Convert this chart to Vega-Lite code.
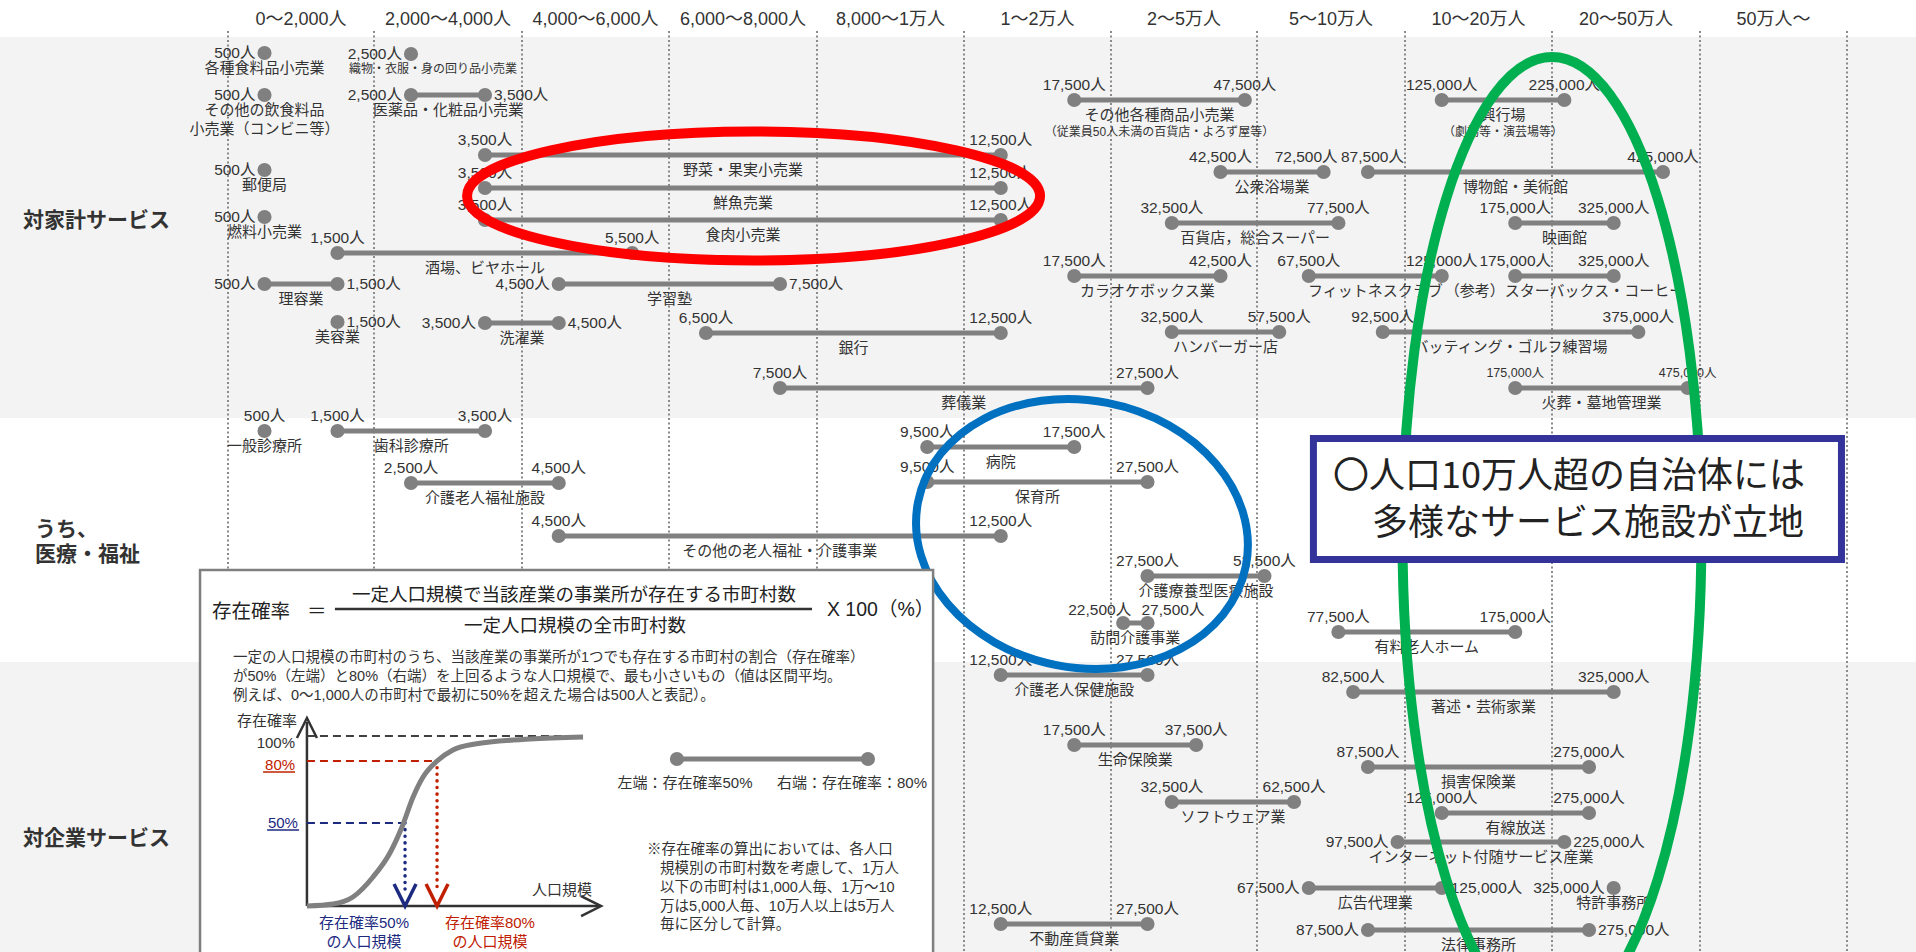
{
 "$schema": "https://vega.github.io/schema/vega-lite/v6.json",
 "width": 1916, "height": 952, "autosize": {"type": "none"}, "padding": 0,
 "background": "white",
 "config": {"view": {"stroke": null}, "axis": {"disable": true}, "font": "Liberation Sans, Noto Sans CJK JP, sans-serif", "text": {"color": "#333333"}},
 "resolve": {"scale": {"x": "independent", "y": "independent"}},
 "layer": [
  {
   "data": {"values": [
    {"n":"各種食料品小売業","lo":500,"y":5.57},
    {"n":"織物・衣服・身の回り品小売業","lo":2500,"y":5.67},
    {"n":"その他の飲食料品|小売業（コンビニ等）","lo":500,"y":9.98},
    {"n":"医薬品・化粧品小売業","lo":2500,"hi":3500,"y":9.98},
    {"n":"郵便局","lo":500,"y":17.86},
    {"n":"燃料小売業","lo":500,"y":22.79},
    {"n":"酒場、ビヤホール","lo":1500,"hi":5500,"y":26.58},
    {"n":"理容業","lo":500,"hi":1500,"y":29.83},
    {"n":"美容業","hi":1500,"y":33.82},
    {"n":"野菜・果実小売業","lo":3500,"hi":12500,"y":16.28},
    {"n":"鮮魚売業","lo":3500,"hi":12500,"y":19.75},
    {"n":"食肉小売業","lo":3500,"hi":12500,"y":23.11},
    {"n":"学習塾","lo":4500,"hi":7500,"y":29.83},
    {"n":"洗濯業","lo":3500,"hi":4500,"y":33.93},
    {"n":"銀行","lo":6500,"hi":12500,"y":34.98},
    {"n":"葬儀業","lo":7500,"hi":27500,"y":40.76},
    {"n":"その他各種商品小売業","s":"（従業員50人未満の百貨店・よろず屋等）","lo":17500,"hi":47500,"y":10.50},
    {"n":"公衆浴場業","lo":42500,"hi":72500,"y":18.07},
    {"n":"百貨店，総合スーパー","lo":32500,"hi":77500,"y":23.42},
    {"n":"カラオケボックス業","lo":17500,"hi":42500,"y":28.99},
    {"n":"フィットネスクラブ","lo":67500,"hi":125000,"y":28.99},
    {"n":"ハンバーガー店","lo":32500,"hi":57500,"y":34.87},
    {"n":"興行場","s":"（劇場等・演芸場等）","lo":125000,"hi":225000,"y":10.50},
    {"n":"博物館・美術館","lo":87500,"hi":425000,"y":18.07},
    {"n":"映画館","lo":175000,"hi":325000,"y":23.42},
    {"n":"（参考）スターバックス・コーヒー","lo":175000,"hi":325000,"y":28.99},
    {"n":"バッティング・ゴルフ練習場","lo":92500,"hi":375000,"y":34.87},
    {"n":"火葬・墓地管理業","lo":175000,"hi":475000,"y":40.76},
    {"n":"一般診療所","lo":500,"y":45.27},
    {"n":"歯科診療所","lo":1500,"hi":3500,"y":45.27},
    {"n":"介護老人福祉施設","lo":2500,"hi":4500,"y":50.74},
    {"n":"病院","lo":9500,"hi":17500,"y":46.95},
    {"n":"保育所","lo":9500,"hi":27500,"y":50.63},
    {"n":"その他の老人福祉・介護事業","lo":4500,"hi":12500,"y":56.30},
    {"n":"介護療養型医療施設","lo":27500,"hi":52500,"y":60.50},
    {"n":"訪問介護事業","lo":22500,"hi":27500,"y":65.44},
    {"n":"有料老人ホーム","lo":77500,"hi":175000,"y":66.39},
    {"n":"介護老人保健施設","lo":12500,"hi":27500,"y":70.90},
    {"n":"生命保険業","lo":17500,"hi":37500,"y":78.26},
    {"n":"ソフトウェア業","lo":32500,"hi":62500,"y":84.24},
    {"n":"不動産賃貸業","lo":12500,"hi":27500,"y":97.06},
    {"n":"著述・芸術家業","lo":82500,"hi":325000,"y":72.69},
    {"n":"損害保険業","lo":87500,"hi":275000,"y":80.57},
    {"n":"有線放送","lo":125000,"hi":275000,"y":85.40},
    {"n":"インターネット付随サービス産業","lo":97500,"hi":225000,"y":88.45},
    {"n":"広告代理業","lo":67500,"hi":125000,"y":93.28},
    {"n":"特許事務所","lo":325000,"y":93.28},
    {"n":"法律事務所","lo":87500,"hi":275000,"y":97.69}
   ]},
   "transform": [
    {"calculate": "isValid(datum.lo) ? datum.lo : datum.hi", "as": "a"},
    {"calculate": "isValid(datum.hi) ? datum.hi : datum.lo", "as": "b"},
    {"calculate": "indexof(['各種食料品小売業','織物・衣服・身の回り品小売業','その他の飲食料品|小売業（コンビニ等）','医薬品・化粧品小売業','郵便局','燃料小売業','理容業','美容業','学習塾','洗濯業','インターネット付随サービス産業','広告代理業','特許事務所','法律事務所'], datum.n) >= 0", "as": "side"},
    {"calculate": "datum.n === '訪問介護事業'", "as": "split"},
    {"calculate": "datum.n === '博物館・美術館'", "as": "pushLo"},
    {"calculate": "datum.n === '公衆浴場業'", "as": "pushHi"},
    {"calculate": "isValid(datum.lo) ? format(datum.lo, ',') + '人' : ''", "as": "tlo"},
    {"calculate": "isValid(datum.hi) ? format(datum.hi, ',') + '人' : ''", "as": "thi"}
   ],
   "layer": [
    {
     "data": {"values": [{"y0": 3.89, "y1": 43.91}, {"y0": 69.54, "y1": 100}]},
     "mark": {"type": "rect", "color": "#f3f3f3"},
     "encoding": {
      "y": {"field": "y0", "type": "quantitative", "scale": {"domain": [0, 100], "reverse": true, "nice": false, "zero": false}},
      "y2": {"field": "y1"}
     }
    },
    {
     "data": {"values": [{"v":0},{"v":2000},{"v":4000},{"v":6000},{"v":8000},{"v":10000},{"v":20000},{"v":50000},{"v":100000},{"v":200000},{"v":500000},{"v":1000000}]},
     "mark": {"type": "rule", "color": "#8a8a8a", "strokeWidth": 2, "strokeDash": [2, 2.5]},
     "encoding": {
      "x": {"field": "v", "type": "quantitative", "scale": {"domain": [0,2000,4000,6000,8000,10000,20000,50000,100000,200000,500000,1000000], "range": [228,374,522,669,817,964,1111,1257,1405,1552,1700,1847], "nice": false, "zero": false}},
      "y": {"datum": 3.26, "type": "quantitative", "scale": {"domain": [0, 100], "reverse": true, "nice": false, "zero": false}},
      "y2": {"datum": 100}
     }
    },
    {
     "data": {"values": [
      {"v":1000,"t":"0～2,000人"},{"v":3000,"t":"2,000～4,000人"},{"v":5000,"t":"4,000～6,000人"},{"v":7000,"t":"6,000～8,000人"},{"v":9000,"t":"8,000～1万人"},{"v":15000,"t":"1～2万人"},{"v":35000,"t":"2～5万人"},{"v":75000,"t":"5～10万人"},{"v":150000,"t":"10～20万人"},{"v":350000,"t":"20～50万人"},{"v":750000,"t":"50万人～"}
     ]},
     "mark": {"type": "text", "fontSize": 18, "baseline": "middle", "align": "center", "color": "#333333"},
     "encoding": {
      "x": {"field": "v", "type": "quantitative", "scale": {"domain": [0,2000,4000,6000,8000,10000,20000,50000,100000,200000,500000,1000000], "range": [228,374,522,669,817,964,1111,1257,1405,1552,1700,1847], "nice": false, "zero": false}},
      "y": {"datum": 2.1, "type": "quantitative", "scale": {"domain": [0, 100], "reverse": true, "nice": false, "zero": false}},
      "text": {"field": "t"}
     }
    },
    {
     "transform": [{"filter": "isValid(datum.lo) && isValid(datum.hi)"}],
     "mark": {"type": "rule", "color": "#808080", "strokeWidth": 5},
     "encoding": {
      "x": {"field": "lo", "type": "quantitative", "scale": {"domain": [0,2000,4000,6000,8000,10000,20000,50000,100000,200000,500000,1000000], "range": [228,374,522,669,817,964,1111,1257,1405,1552,1700,1847], "nice": false, "zero": false}},
      "x2": {"field": "hi"},
      "y": {"field": "y", "type": "quantitative", "scale": {"domain": [0, 100], "reverse": true, "nice": false, "zero": false}}
     }
    },
    {
     "transform": [{"fold": ["lo", "hi"], "as": ["k", "v"]}, {"filter": "isValid(datum.v)"}],
     "mark": {"type": "circle", "color": "#808080", "size": 200, "opacity": 1},
     "encoding": {
      "x": {"field": "v", "type": "quantitative", "scale": {"domain": [0,2000,4000,6000,8000,10000,20000,50000,100000,200000,500000,1000000], "range": [228,374,522,669,817,964,1111,1257,1405,1552,1700,1847], "nice": false, "zero": false}},
      "y": {"field": "y", "type": "quantitative", "scale": {"domain": [0, 100], "reverse": true, "nice": false, "zero": false}}
     }
    },
    {
     "transform": [{"filter": "!datum.side && !datum.split && !datum.pushLo && isValid(datum.lo)"}],
     "mark": {"type": "text", "align": "center", "baseline": "middle", "dy": -15, "color": "#333333"},
     "encoding": {
      "x": {"field": "lo", "type": "quantitative", "scale": {"domain": [0,2000,4000,6000,8000,10000,20000,50000,100000,200000,500000,1000000], "range": [228,374,522,669,817,964,1111,1257,1405,1552,1700,1847], "nice": false, "zero": false}},
      "y": {"field": "y", "type": "quantitative", "scale": {"domain": [0, 100], "reverse": true, "nice": false, "zero": false}},
      "text": {"field": "tlo"},
      "size": {"condition": {"test": "datum.n === '火葬・墓地管理業'", "value": 12.5}, "value": 15.5}
     }
    },
    {
     "transform": [{"filter": "!datum.side && !datum.split && !datum.pushHi && isValid(datum.hi)"}],
     "mark": {"type": "text", "align": "center", "baseline": "middle", "dy": -15, "color": "#333333"},
     "encoding": {
      "x": {"field": "hi", "type": "quantitative", "scale": {"domain": [0,2000,4000,6000,8000,10000,20000,50000,100000,200000,500000,1000000], "range": [228,374,522,669,817,964,1111,1257,1405,1552,1700,1847], "nice": false, "zero": false}},
      "y": {"field": "y", "type": "quantitative", "scale": {"domain": [0, 100], "reverse": true, "nice": false, "zero": false}},
      "text": {"field": "thi"},
      "size": {"condition": {"test": "datum.n === '火葬・墓地管理業'", "value": 12.5}, "value": 15.5}
     }
    },
    {
     "transform": [{"filter": "datum.pushLo"}],
     "mark": {"type": "text", "align": "left", "baseline": "middle", "dy": -15, "dx": -27, "fontSize": 15.5, "color": "#333333"},
     "encoding": {
      "x": {"field": "lo", "type": "quantitative", "scale": {"domain": [0,2000,4000,6000,8000,10000,20000,50000,100000,200000,500000,1000000], "range": [228,374,522,669,817,964,1111,1257,1405,1552,1700,1847], "nice": false, "zero": false}},
      "y": {"field": "y", "type": "quantitative", "scale": {"domain": [0, 100], "reverse": true, "nice": false, "zero": false}},
      "text": {"field": "tlo"}
     }
    },
    {
     "transform": [{"filter": "datum.pushHi"}],
     "mark": {"type": "text", "align": "right", "baseline": "middle", "dy": -15, "dx": 14, "fontSize": 15.5, "color": "#333333"},
     "encoding": {
      "x": {"field": "hi", "type": "quantitative", "scale": {"domain": [0,2000,4000,6000,8000,10000,20000,50000,100000,200000,500000,1000000], "range": [228,374,522,669,817,964,1111,1257,1405,1552,1700,1847], "nice": false, "zero": false}},
      "y": {"field": "y", "type": "quantitative", "scale": {"domain": [0, 100], "reverse": true, "nice": false, "zero": false}},
      "text": {"field": "thi"}
     }
    },
    {
     "transform": [{"filter": "datum.split"}],
     "mark": {"type": "text", "align": "right", "baseline": "middle", "dy": -13, "dx": 8, "fontSize": 15.5, "color": "#333333"},
     "encoding": {
      "x": {"field": "lo", "type": "quantitative", "scale": {"domain": [0,2000,4000,6000,8000,10000,20000,50000,100000,200000,500000,1000000], "range": [228,374,522,669,817,964,1111,1257,1405,1552,1700,1847], "nice": false, "zero": false}},
      "y": {"field": "y", "type": "quantitative", "scale": {"domain": [0, 100], "reverse": true, "nice": false, "zero": false}},
      "text": {"field": "tlo"}
     }
    },
    {
     "transform": [{"filter": "datum.split"}],
     "mark": {"type": "text", "align": "left", "baseline": "middle", "dy": -13, "dx": -6, "fontSize": 15.5, "color": "#333333"},
     "encoding": {
      "x": {"field": "hi", "type": "quantitative", "scale": {"domain": [0,2000,4000,6000,8000,10000,20000,50000,100000,200000,500000,1000000], "range": [228,374,522,669,817,964,1111,1257,1405,1552,1700,1847], "nice": false, "zero": false}},
      "y": {"field": "y", "type": "quantitative", "scale": {"domain": [0, 100], "reverse": true, "nice": false, "zero": false}},
      "text": {"field": "thi"}
     }
    },
    {
     "transform": [{"filter": "datum.side && isValid(datum.lo)"}],
     "mark": {"type": "text", "align": "right", "baseline": "middle", "dx": -9, "fontSize": 15.5, "color": "#333333"},
     "encoding": {
      "x": {"field": "lo", "type": "quantitative", "scale": {"domain": [0,2000,4000,6000,8000,10000,20000,50000,100000,200000,500000,1000000], "range": [228,374,522,669,817,964,1111,1257,1405,1552,1700,1847], "nice": false, "zero": false}},
      "y": {"field": "y", "type": "quantitative", "scale": {"domain": [0, 100], "reverse": true, "nice": false, "zero": false}},
      "text": {"field": "tlo"}
     }
    },
    {
     "transform": [{"filter": "datum.side && isValid(datum.hi)"}],
     "mark": {"type": "text", "align": "left", "baseline": "middle", "dx": 9, "fontSize": 15.5, "color": "#333333"},
     "encoding": {
      "x": {"field": "hi", "type": "quantitative", "scale": {"domain": [0,2000,4000,6000,8000,10000,20000,50000,100000,200000,500000,1000000], "range": [228,374,522,669,817,964,1111,1257,1405,1552,1700,1847], "nice": false, "zero": false}},
      "y": {"field": "y", "type": "quantitative", "scale": {"domain": [0, 100], "reverse": true, "nice": false, "zero": false}},
      "text": {"field": "thi"}
     }
    },
    {
     "transform": [{"filter": "datum.n !== '織物・衣服・身の回り品小売業'"}],
     "mark": {"type": "text", "align": "center", "baseline": "top", "dy": 8, "fontSize": 15, "lineBreak": "|", "lineHeight": 19, "color": "#333333",
       "x": {"expr": "(scale('layer_0_x', datum.a) + scale('layer_0_x', datum.b)) / 2"}},
     "encoding": {
      "y": {"field": "y", "type": "quantitative", "scale": {"domain": [0, 100], "reverse": true, "nice": false, "zero": false}},
      "text": {"field": "n"}
     }
    },
    {
     "transform": [{"filter": "datum.n === '織物・衣服・身の回り品小売業'"}],
     "mark": {"type": "text", "align": "center", "baseline": "top", "dy": 10, "dx": 22, "fontSize": 12, "color": "#333333",
       "x": {"expr": "scale('layer_0_x', datum.a)"}},
     "encoding": {
      "y": {"field": "y", "type": "quantitative", "scale": {"domain": [0, 100], "reverse": true, "nice": false, "zero": false}},
      "text": {"field": "n"}
     }
    },
    {
     "transform": [{"filter": "isValid(datum.s)"}],
     "mark": {"type": "text", "align": "center", "baseline": "top", "dy": 27, "fontSize": 12, "color": "#333333",
       "x": {"expr": "(scale('layer_0_x', datum.a) + scale('layer_0_x', datum.b)) / 2"}},
     "encoding": {
      "y": {"field": "y", "type": "quantitative", "scale": {"domain": [0, 100], "reverse": true, "nice": false, "zero": false}},
      "text": {"field": "s"}
     }
    }
   ]
  },
  {
   "layer": [
    {
     "data": {"values": [{"t":"対家計サービス","x":1.2,"y":23.21},{"t":"うち、|医療・福祉","x":1.83,"y":55.67},{"t":"対企業サービス","x":1.2,"y":88.13}]},
     "mark": {"type": "text", "align": "left", "baseline": "middle", "fontSize": 21, "fontWeight": "bold", "lineBreak": "|", "lineHeight": 25, "color": "#333333"},
     "encoding": {
      "x": {"field": "x", "type": "quantitative", "scale": {"domain": [0, 100], "nice": false, "zero": false}},
      "y": {"field": "y", "type": "quantitative", "scale": {"domain": [0, 100], "reverse": true, "nice": false, "zero": false}},
      "text": {"field": "t"}
     }
    },
    {
     "data": {"values": [{"x": 39.33, "y": 20.59}]},
     "mark": {"type": "point", "shape": "M -1 0 A 1 0.225 0 1 1 1 0 A 1 0.225 0 1 1 -1 0 Z", "size": 328329, "filled": false, "stroke": "#ff0000", "strokeWidth": 10, "opacity": 1},
     "encoding": {
      "x": {"field": "x", "type": "quantitative", "scale": {"domain": [0, 100], "nice": false, "zero": false}},
      "y": {"field": "y", "type": "quantitative", "scale": {"domain": [0, 100], "reverse": true, "nice": false, "zero": false}}
     }
    },
    {
     "data": {"values": [{"x": 56.47, "y": 56.09}]},
     "mark": {"type": "point", "shape": "M -1 0 A 1 0.8 0 1 1 1 0 A 1 0.8 0 1 1 -1 0 Z", "size": 111556, "angle": 11, "filled": false, "stroke": "#0070c0", "strokeWidth": 8, "opacity": 1},
     "encoding": {
      "x": {"field": "x", "type": "quantitative", "scale": {"domain": [0, 100], "nice": false, "zero": false}},
      "y": {"field": "y", "type": "quantitative", "scale": {"domain": [0, 100], "reverse": true, "nice": false, "zero": false}}
     }
    },
    {
     "data": {"values": [{"x": 81.0, "y": 56.62}]},
     "mark": {"type": "point", "shape": "M 0 -1 A 0.31 1 0 1 1 0 1 A 0.31 1 0 1 1 0 -1 Z", "size": 929296, "filled": false, "stroke": "#00b050", "strokeWidth": 10, "opacity": 1},
     "encoding": {
      "x": {"field": "x", "type": "quantitative", "scale": {"domain": [0, 100], "nice": false, "zero": false}},
      "y": {"field": "y", "type": "quantitative", "scale": {"domain": [0, 100], "reverse": true, "nice": false, "zero": false}}
     }
    },
    {
     "data": {"values": [{"x": 68.55, "x2": 96.11, "y": 46.06, "y2": 58.77}]},
     "mark": {"type": "rect", "fill": "#ffffff", "stroke": "#333399", "strokeWidth": 7},
     "encoding": {
      "x": {"field": "x", "type": "quantitative", "scale": {"domain": [0, 100], "nice": false, "zero": false}},
      "x2": {"field": "x2"},
      "y": {"field": "y", "type": "quantitative", "scale": {"domain": [0, 100], "reverse": true, "nice": false, "zero": false}},
      "y2": {"field": "y2"}
     }
    },
    {
     "data": {"values": [{"t": "〇人口10万人超の自治体には", "x": 69.57, "y": 50.1}, {"t": "多様なサービス施設が立地", "x": 71.61, "y": 55.04}]},
     "mark": {"type": "text", "align": "left", "baseline": "middle", "fontSize": 36, "color": "#222222", "font": "Noto Sans CJK JP"},
     "encoding": {
      "x": {"field": "x", "type": "quantitative", "scale": {"domain": [0, 100], "nice": false, "zero": false}},
      "y": {"field": "y", "type": "quantitative", "scale": {"domain": [0, 100], "reverse": true, "nice": false, "zero": false}},
      "text": {"field": "t"}
     }
    },
    {
     "data": {"values": [{"x": 10.44, "x2": 48.70, "y": 59.87, "y2": 101}]},
     "mark": {"type": "rect", "fill": "#ffffff", "stroke": "#7f7f7f", "strokeWidth": 2.5},
     "encoding": {
      "x": {"field": "x", "type": "quantitative", "scale": {"domain": [0, 100], "nice": false, "zero": false}},
      "x2": {"field": "x2"},
      "y": {"field": "y", "type": "quantitative", "scale": {"domain": [0, 100], "reverse": true, "nice": false, "zero": false}},
      "y2": {"field": "y2"}
     }
    },
    {
     "data": {"values": [
      {"x": 17.48, "x2": 42.38, "y": 63.97, "y2": 63.97},
      {"x": 16.02, "x2": 16.02, "y": 75.84, "y2": 95.17},
      {"x": 16.02, "x2": 31.26, "y": 95.17, "y2": 95.17}
     ]},
     "mark": {"type": "rule", "color": "#333333", "strokeWidth": 2.5},
     "encoding": {
      "x": {"field": "x", "type": "quantitative", "scale": {"domain": [0, 100], "nice": false, "zero": false}},
      "x2": {"field": "x2"},
      "y": {"field": "y", "type": "quantitative", "scale": {"domain": [0, 100], "reverse": true, "nice": false, "zero": false}},
      "y2": {"field": "y2"}
     }
    },
    {
     "data": {"values": [{"x": 16.02, "x2": 30.43, "y": 77.31, "y2": 77.31}]},
     "mark": {"type": "rule", "color": "#404040", "strokeWidth": 2, "strokeDash": [8, 5]},
     "encoding": {
      "x": {"field": "x", "type": "quantitative", "scale": {"domain": [0, 100], "nice": false, "zero": false}},
      "x2": {"field": "x2"},
      "y": {"field": "y", "type": "quantitative", "scale": {"domain": [0, 100], "reverse": true, "nice": false, "zero": false}},
      "y2": {"field": "y2"}
     }
    },
    {
     "data": {"values": [{"x": 16.02, "x2": 22.81, "y": 79.94, "y2": 79.94}]},
     "mark": {"type": "rule", "color": "#c02000", "strokeWidth": 2, "strokeDash": [8, 5]},
     "encoding": {
      "x": {"field": "x", "type": "quantitative", "scale": {"domain": [0, 100], "nice": false, "zero": false}},
      "x2": {"field": "x2"},
      "y": {"field": "y", "type": "quantitative", "scale": {"domain": [0, 100], "reverse": true, "nice": false, "zero": false}},
      "y2": {"field": "y2"}
     }
    },
    {
     "data": {"values": [{"x": 16.02, "x2": 21.14, "y": 86.45, "y2": 86.45}]},
     "mark": {"type": "rule", "color": "#1c2a80", "strokeWidth": 2, "strokeDash": [8, 5]},
     "encoding": {
      "x": {"field": "x", "type": "quantitative", "scale": {"domain": [0, 100], "nice": false, "zero": false}},
      "x2": {"field": "x2"},
      "y": {"field": "y", "type": "quantitative", "scale": {"domain": [0, 100], "reverse": true, "nice": false, "zero": false}},
      "y2": {"field": "y2"}
     }
    },
    {
     "data": {"values": [{"x": 21.14, "x2": 21.14, "y": 86.45, "y2": 93.8}]},
     "mark": {"type": "rule", "color": "#1c2a80", "strokeWidth": 3.5, "strokeDash": [0.1, 6.5], "strokeCap": "round"},
     "encoding": {
      "x": {"field": "x", "type": "quantitative", "scale": {"domain": [0, 100], "nice": false, "zero": false}},
      "x2": {"field": "x2"},
      "y": {"field": "y", "type": "quantitative", "scale": {"domain": [0, 100], "reverse": true, "nice": false, "zero": false}},
      "y2": {"field": "y2"}
     }
    },
    {
     "data": {"values": [{"x": 22.81, "x2": 22.81, "y": 79.94, "y2": 93.8}]},
     "mark": {"type": "rule", "color": "#c02000", "strokeWidth": 3.5, "strokeDash": [0.1, 6.5], "strokeCap": "round"},
     "encoding": {
      "x": {"field": "x", "type": "quantitative", "scale": {"domain": [0, 100], "nice": false, "zero": false}},
      "x2": {"field": "x2"},
      "y": {"field": "y", "type": "quantitative", "scale": {"domain": [0, 100], "reverse": true, "nice": false, "zero": false}},
      "y2": {"field": "y2"}
     }
    },
    {
     "data": {"values": [{"x": 13.73, "x2": 15.40, "y": 81.09, "y2": 81.09}]},
     "mark": {"type": "rule", "color": "#c02000", "strokeWidth": 1.5},
     "encoding": {
      "x": {"field": "x", "type": "quantitative", "scale": {"domain": [0, 100], "nice": false, "zero": false}},
      "x2": {"field": "x2"},
      "y": {"field": "y", "type": "quantitative", "scale": {"domain": [0, 100], "reverse": true, "nice": false, "zero": false}},
      "y2": {"field": "y2"}
     }
    },
    {
     "data": {"values": [{"x": 13.94, "x2": 15.61, "y": 87.18, "y2": 87.18}]},
     "mark": {"type": "rule", "color": "#1c2a80", "strokeWidth": 1.5},
     "encoding": {
      "x": {"field": "x", "type": "quantitative", "scale": {"domain": [0, 100], "nice": false, "zero": false}},
      "x2": {"field": "x2"},
      "y": {"field": "y", "type": "quantitative", "scale": {"domain": [0, 100], "reverse": true, "nice": false, "zero": false}},
      "y2": {"field": "y2"}
     }
    },
    {
     "data": {"values": [
      {"x":16.02,"y":95.17},{"x":17.38,"y":94.96},{"x":18.42,"y":94.22},{"x":19.47,"y":92.12},{"x":20.35,"y":89.60},{"x":20.98,"y":86.87},{"x":21.56,"y":83.72},{"x":22.08,"y":81.62},{"x":22.81,"y":79.94},{"x":23.64,"y":78.78},{"x":24.79,"y":78.15},{"x":27.66,"y":77.63},{"x":30.43,"y":77.42}
     ]},
     "mark": {"type": "line", "color": "#808080", "strokeWidth": 5, "interpolate": "monotone"},
     "encoding": {
      "x": {"field": "x", "type": "quantitative", "scale": {"domain": [0, 100], "nice": false, "zero": false}},
      "y": {"field": "y", "type": "quantitative", "scale": {"domain": [0, 100], "reverse": true, "nice": false, "zero": false}}
     }
    },
    {
     "data": {"values": [{"x": 35.33, "x2": 45.30, "y": 79.73, "y2": 79.73}]},
     "mark": {"type": "rule", "color": "#808080", "strokeWidth": 5},
     "encoding": {
      "x": {"field": "x", "type": "quantitative", "scale": {"domain": [0, 100], "nice": false, "zero": false}},
      "x2": {"field": "x2"},
      "y": {"field": "y", "type": "quantitative", "scale": {"domain": [0, 100], "reverse": true, "nice": false, "zero": false}},
      "y2": {"field": "y2"}
     }
    },
    {
     "data": {"values": [{"x": 35.33, "y": 79.73}, {"x": 45.30, "y": 79.73}]},
     "mark": {"type": "circle", "color": "#808080", "size": 200, "opacity": 1},
     "encoding": {
      "x": {"field": "x", "type": "quantitative", "scale": {"domain": [0, 100], "nice": false, "zero": false}},
      "y": {"field": "y", "type": "quantitative", "scale": {"domain": [0, 100], "reverse": true, "nice": false, "zero": false}}
     }
    },
    {
     "data": {"values": [{"x": 16.02, "y": 76.47}]},
     "mark": {"type": "point", "shape": "M -1 1 L 0 -1 L 1 1", "size": 400, "filled": false, "stroke": "#333333", "strokeWidth": 2.5, "opacity": 1},
     "encoding": {
      "x": {"field": "x", "type": "quantitative", "scale": {"domain": [0, 100], "nice": false, "zero": false}},
      "y": {"field": "y", "type": "quantitative", "scale": {"domain": [0, 100], "reverse": true, "nice": false, "zero": false}}
     }
    },
    {
     "data": {"values": [{"x": 30.85, "y": 95.17}]},
     "mark": {"type": "point", "shape": "M -1 -1 L 1 0 L -1 1", "size": 400, "filled": false, "stroke": "#333333", "strokeWidth": 2.5, "opacity": 1},
     "encoding": {
      "x": {"field": "x", "type": "quantitative", "scale": {"domain": [0, 100], "nice": false, "zero": false}},
      "y": {"field": "y", "type": "quantitative", "scale": {"domain": [0, 100], "reverse": true, "nice": false, "zero": false}}
     }
    },
    {
     "data": {"values": [{"x": 21.14, "y": 94.01}]},
     "mark": {"type": "point", "shape": "M -1 -1 L 0 1 L 1 -1", "size": 484, "filled": false, "stroke": "#1c2a80", "strokeWidth": 3.5, "opacity": 1},
     "encoding": {
      "x": {"field": "x", "type": "quantitative", "scale": {"domain": [0, 100], "nice": false, "zero": false}},
      "y": {"field": "y", "type": "quantitative", "scale": {"domain": [0, 100], "reverse": true, "nice": false, "zero": false}}
     }
    },
    {
     "data": {"values": [{"x": 22.81, "y": 94.01}]},
     "mark": {"type": "point", "shape": "M -1 -1 L 0 1 L 1 -1", "size": 484, "filled": false, "stroke": "#c02000", "strokeWidth": 3.5, "opacity": 1},
     "encoding": {
      "x": {"field": "x", "type": "quantitative", "scale": {"domain": [0, 100], "nice": false, "zero": false}},
      "y": {"field": "y", "type": "quantitative", "scale": {"domain": [0, 100], "reverse": true, "nice": false, "zero": false}}
     }
    },
    {
     "data": {"values": [
      {"t": "存在確率", "x": 11.06, "y": 64.29},
      {"t": "＝", "x": 16.02, "y": 64.29},
      {"t": "X 100（%）", "x": 43.16, "y": 64.08}
     ]},
     "mark": {"type": "text", "align": "left", "baseline": "middle", "fontSize": 19.5, "color": "#222222"},
     "encoding": {
      "x": {"field": "x", "type": "quantitative", "scale": {"domain": [0, 100], "nice": false, "zero": false}},
      "y": {"field": "y", "type": "quantitative", "scale": {"domain": [0, 100], "reverse": true, "nice": false, "zero": false}},
      "text": {"field": "t"}
     }
    },
    {
     "data": {"values": [
      {"t": "一定人口規模で当該産業の事業所が存在する市町村数", "x": 29.96, "y": 62.5},
      {"t": "一定人口規模の全市町村数", "x": 30.01, "y": 65.76}
     ]},
     "mark": {"type": "text", "align": "center", "baseline": "middle", "fontSize": 18.5, "color": "#222222"},
     "encoding": {
      "x": {"field": "x", "type": "quantitative", "scale": {"domain": [0, 100], "nice": false, "zero": false}},
      "y": {"field": "y", "type": "quantitative", "scale": {"domain": [0, 100], "reverse": true, "nice": false, "zero": false}},
      "text": {"field": "t"}
     }
    },
    {
     "data": {"values": [
      {"t": "一定の人口規模の市町村のうち、当該産業の事業所が1つでも存在する市町村の割合（存在確率）|が50%（左端）と80%（右端）を上回るような人口規模で、最も小さいもの（値は区間平均。|例えば、0～1,000人の市町村で最初に50%を超えた場合は500人と表記）。", "x": 12.16, "y": 69.12},
      {"t": "※存在確率の算出においては、各人口", "x": 33.77, "y": 89.29},
      {"t": "規模別の市町村数を考慮して、1万人|以下の市町村は1,000人毎、1万～10|万は5,000人毎、10万人以上は5万人|毎に区分して計算。", "x": 34.45, "y": 91.28}
     ]},
     "mark": {"type": "text", "align": "left", "baseline": "middle", "fontSize": 14.5, "lineBreak": "|", "lineHeight": 18.8, "color": "#333333"},
     "encoding": {
      "x": {"field": "x", "type": "quantitative", "scale": {"domain": [0, 100], "nice": false, "zero": false}},
      "y": {"field": "y", "type": "quantitative", "scale": {"domain": [0, 100], "reverse": true, "nice": false, "zero": false}},
      "text": {"field": "t"}
     }
    },
    {
     "data": {"values": [
      {"t": "左端：存在確率50%", "x": 35.75, "y": 82.25},
      {"t": "右端：存在確率：80%", "x": 44.47, "y": 82.25},
      {"t": "人口規模", "x": 29.33, "y": 93.49}
     ]},
     "mark": {"type": "text", "align": "center", "baseline": "middle", "fontSize": 15, "color": "#333333"},
     "encoding": {
      "x": {"field": "x", "type": "quantitative", "scale": {"domain": [0, 100], "nice": false, "zero": false}},
      "y": {"field": "y", "type": "quantitative", "scale": {"domain": [0, 100], "reverse": true, "nice": false, "zero": false}},
      "text": {"field": "t"}
     }
    },
    {
     "data": {"values": [
      {"t": "存在確率", "x": 15.5, "y": 75.74},
      {"t": "100%", "x": 15.4, "y": 78.05}
     ]},
     "mark": {"type": "text", "align": "right", "baseline": "middle", "fontSize": 15, "color": "#333333"},
     "encoding": {
      "x": {"field": "x", "type": "quantitative", "scale": {"domain": [0, 100], "nice": false, "zero": false}},
      "y": {"field": "y", "type": "quantitative", "scale": {"domain": [0, 100], "reverse": true, "nice": false, "zero": false}},
      "text": {"field": "t"}
     }
    },
    {
     "data": {"values": [{"t": "80%", "x": 15.4, "y": 80.36}]},
     "mark": {"type": "text", "align": "right", "baseline": "middle", "fontSize": 15, "color": "#c02000"},
     "encoding": {
      "x": {"field": "x", "type": "quantitative", "scale": {"domain": [0, 100], "nice": false, "zero": false}},
      "y": {"field": "y", "type": "quantitative", "scale": {"domain": [0, 100], "reverse": true, "nice": false, "zero": false}},
      "text": {"field": "t"}
     }
    },
    {
     "data": {"values": [{"t": "50%", "x": 15.55, "y": 86.45}]},
     "mark": {"type": "text", "align": "right", "baseline": "middle", "fontSize": 15, "color": "#1c2a80"},
     "encoding": {
      "x": {"field": "x", "type": "quantitative", "scale": {"domain": [0, 100], "nice": false, "zero": false}},
      "y": {"field": "y", "type": "quantitative", "scale": {"domain": [0, 100], "reverse": true, "nice": false, "zero": false}},
      "text": {"field": "t"}
     }
    },
    {
     "data": {"values": [{"t": "存在確率50%|の人口規模", "x": 19.0, "y": 96.95}]},
     "mark": {"type": "text", "align": "center", "baseline": "middle", "fontSize": 15, "lineBreak": "|", "lineHeight": 19, "color": "#1c2a80"},
     "encoding": {
      "x": {"field": "x", "type": "quantitative", "scale": {"domain": [0, 100], "nice": false, "zero": false}},
      "y": {"field": "y", "type": "quantitative", "scale": {"domain": [0, 100], "reverse": true, "nice": false, "zero": false}},
      "text": {"field": "t"}
     }
    },
    {
     "data": {"values": [{"t": "存在確率80%|の人口規模", "x": 25.57, "y": 96.95}]},
     "mark": {"type": "text", "align": "center", "baseline": "middle", "fontSize": 15, "lineBreak": "|", "lineHeight": 19, "color": "#c02000"},
     "encoding": {
      "x": {"field": "x", "type": "quantitative", "scale": {"domain": [0, 100], "nice": false, "zero": false}},
      "y": {"field": "y", "type": "quantitative", "scale": {"domain": [0, 100], "reverse": true, "nice": false, "zero": false}},
      "text": {"field": "t"}
     }
    }
   ]
  }
 ]
}
